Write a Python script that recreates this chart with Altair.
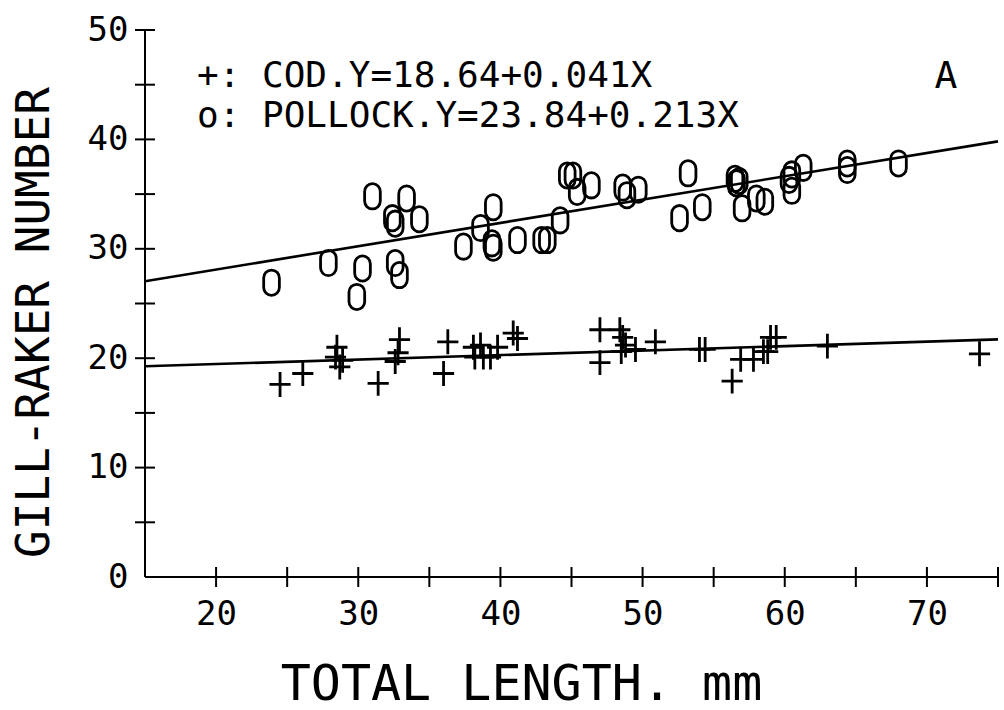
import altair as alt
import pandas as pd

# ---- data ----
cod_x = [24.5, 26.1, 28.5, 28.4, 28.7, 28.9, 31.4, 32.9, 32.8, 32.6,
         36.0, 36.3, 38.1, 38.6, 38.2, 38.8, 39.3, 39.8, 40.9, 41.2,
         47.0, 47.0, 48.4, 48.6, 48.8, 48.5, 49.5, 50.9, 54.0, 54.4,
         56.3, 56.9, 57.8, 58.5, 58.8, 59.0, 59.4, 63.0, 73.7]
cod_y = [17.6, 18.6, 21.0, 20.1, 19.2, 19.8, 17.7, 21.7, 20.5, 19.7,
         18.6, 21.5, 21.0, 21.2, 20.1, 20.1, 20.1, 21.0, 22.3, 21.8,
         22.6, 19.6, 22.6, 21.9, 21.2, 20.6, 20.8, 21.5, 20.8, 20.8,
         17.9, 19.9, 19.9, 20.6, 20.6, 21.9, 21.9, 21.1, 20.4]

pol_x = [23.9, 27.9, 29.9, 30.3, 31.0, 32.4, 32.6, 32.6, 32.9, 33.4,
         34.3, 37.4, 38.6, 39.5, 39.4, 39.5, 41.2, 42.9, 43.3, 44.2,
         44.7, 45.1, 45.4, 46.4, 48.6, 48.9, 49.7, 53.2, 52.6, 54.2,
         56.5, 56.6, 56.8, 57.0, 58.0, 58.6, 60.5, 60.3, 60.5, 61.3,
         64.4, 64.4, 68.0]
pol_y = [26.9, 28.7, 25.6, 28.2, 34.8, 32.8, 32.3, 28.7, 27.6, 34.6,
         32.7, 30.2, 31.9, 33.8, 30.5, 30.1, 30.8, 30.8, 30.8, 32.6,
         36.7, 36.7, 35.2, 35.8, 35.6, 34.9, 35.4, 36.9, 32.8, 33.8,
         36.4, 36.0, 36.2, 33.7, 34.6, 34.3, 36.8, 36.3, 35.3, 37.4,
         37.8, 37.2, 37.8]

cod_line_x = [15, 75]
cod_line_y = [19.26, 21.72]
pol_line_x = [15, 75]
pol_line_y = [27.04, 39.82]

x_labels = [20, 30, 40, 50, 60, 70]
y_labels = [0, 10, 20, 30, 40, 50]
x_tick_marks = [20, 25, 30, 35, 40, 45, 50, 55, 60, 65, 70, 75]
y_tick_marks = [5, 10, 15, 20, 25, 30, 35, 40, 45, 50]

legend_lines = ["+: COD.Y=18.64+0.041X", "o: POLLOCK.Y=23.84+0.213X"]
panel_letter = "A"
x_title = "TOTAL LENGTH. mm"
y_title = "GILL-RAKER NUMBER"

# ---- chart ----
W, H = 853, 547
FONT = "DejaVu Sans Mono"

xscale = alt.Scale(domain=[15, 75], nice=False, zero=False)
yscale = alt.Scale(domain=[0, 50], nice=False, zero=False)

xaxis = alt.Axis(values=x_labels, domain=False, ticks=False, tickSize=0, grid=False,
                 labelFont=FONT, labelFontSize=34, labelColor="black", labelPadding=20,
                 labelFlush=False, title=x_title, titleFont=FONT, titleFontSize=50,
                 titleFontWeight="normal", titleColor="black",
                 titleX=376, titleY=122, titleBaseline="alphabetic", titleAlign="center")
yaxis = alt.Axis(values=y_labels, domain=False, ticks=False, tickSize=0, grid=False,
                 labelFont=FONT, labelFontSize=34, labelColor="black", labelPadding=17,
                 labelFlush=False, title=y_title, titleFont=FONT, titleFontSize=46,
                 titleFontWeight="normal", titleColor="black",
                 titleX=-97, titleY=292, titleBaseline="alphabetic", titleAlign="center",
                 titleAngle=270)

X = alt.X("x:Q", scale=xscale, axis=xaxis)
Y = alt.Y("y:Q", scale=yscale, axis=yaxis)

cod_df = pd.DataFrame({"x": cod_x, "y": cod_y})
pol_df = pd.DataFrame({"x": pol_x, "y": pol_y})
cod_line_df = pd.DataFrame({"x": cod_line_x, "y": cod_line_y})
pol_line_df = pd.DataFrame({"x": pol_line_x, "y": pol_line_y})
xt_df = pd.DataFrame({"x": x_tick_marks})
yt_df = pd.DataFrame({"y": y_tick_marks})

ellipse = ("M-0.62,-0.38 A0.62,0.62 0 0 1 0.62,-0.38 L0.62,0.38 "
           "A0.62,0.62 0 0 1 -0.62,0.38 Z")
plus = "M-0.85,0 L0.85,0 M0,-1 L0,1"

pol_pts = alt.Chart(pol_df).mark_point(
    shape=ellipse, size=640, filled=False, stroke="black", strokeWidth=2.8, opacity=1
).encode(x=X, y=Y)

cod_pts = alt.Chart(cod_df).mark_point(
    shape=plus, size=620, filled=False, stroke="black", strokeWidth=2.8, opacity=1
).encode(x=X, y=Y)

cod_line = alt.Chart(cod_line_df).mark_line(color="black", strokeWidth=2.6).encode(x=X, y=Y)
pol_line = alt.Chart(pol_line_df).mark_line(color="black", strokeWidth=2.6).encode(x=X, y=Y)

x_ticks = alt.Chart(xt_df).mark_rule(color="black", strokeWidth=2).encode(
    x=X, y=alt.value(H - 10), y2=alt.value(H + 10))
y_ticks = alt.Chart(yt_df).mark_rule(color="black", strokeWidth=2).encode(
    y=Y, x=alt.value(-10), x2=alt.value(10))

x_axis_line = alt.Chart(xt_df).mark_rule(color="black", strokeWidth=2).encode(
    x=alt.value(0), x2=alt.value(W), y=alt.value(H))
y_axis_line = alt.Chart(yt_df).mark_rule(color="black", strokeWidth=2).encode(
    y=alt.value(0), y2=alt.value(H), x=alt.value(0))

leg1 = alt.Chart(pd.DataFrame({"t": [legend_lines[0]]})).mark_text(
    font=FONT, fontSize=36, align="left", baseline="alphabetic", color="black"
).encode(text="t:N", x=alt.value(52), y=alt.value(57))
leg2 = alt.Chart(pd.DataFrame({"t": [legend_lines[1]]})).mark_text(
    font=FONT, fontSize=36, align="left", baseline="alphabetic", color="black"
).encode(text="t:N", x=alt.value(52), y=alt.value(97))
letter = alt.Chart(pd.DataFrame({"t": [panel_letter]})).mark_text(
    font=FONT, fontSize=38, align="center", baseline="alphabetic", color="black"
).encode(text="t:N", x=alt.value(801), y=alt.value(58))

chart = alt.layer(
    pol_pts, cod_pts, pol_line, cod_line, x_ticks, y_ticks,
    x_axis_line, y_axis_line, leg1, leg2, letter
).properties(
    width=W, height=H,
    autosize=alt.AutoSizeParams(type="none"),
    padding={"left": 145, "top": 30, "right": 6, "bottom": 133},
    background="white",
).configure_view(stroke=None)

chart.save("out.html", embed_options={"renderer": "svg", "actions": False})
